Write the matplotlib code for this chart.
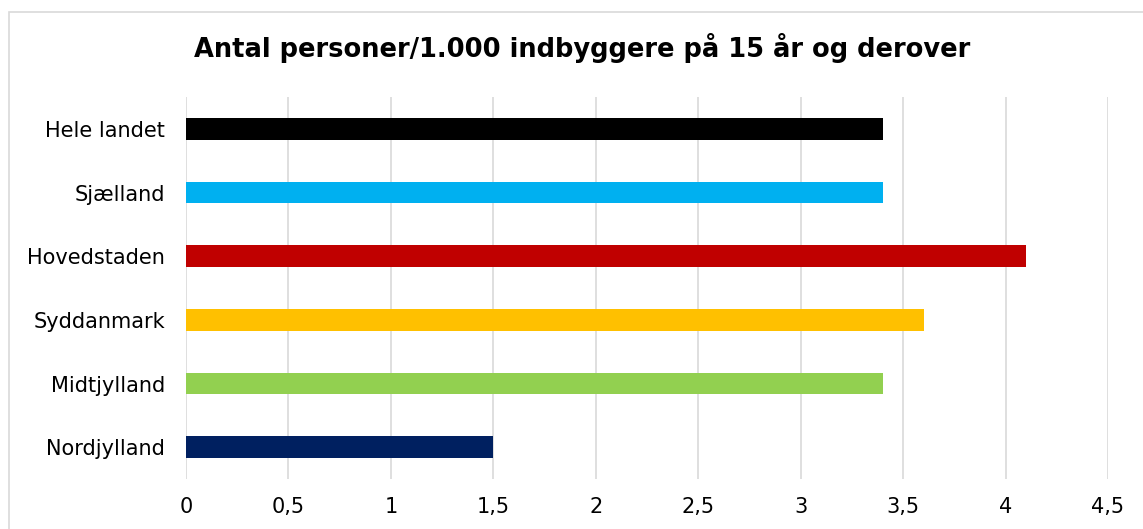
import matplotlib
matplotlib.use("Agg")
import matplotlib.pyplot as plt
from matplotlib.patches import Rectangle

categories = ["Hele landet", "Sjælland", "Hovedstaden", "Syddanmark", "Midtjylland", "Nordjylland"]
values = [3.4, 3.4, 4.1, 3.6, 3.4, 1.5]
colors = ["#000000", "#00B0F0", "#C00000", "#FFC000", "#92D050", "#002060"]
xticks = [0, 0.5, 1, 1.5, 2, 2.5, 3, 3.5, 4, 4.5]
xticklabels = ["0", "0,5", "1", "1,5", "2", "2,5", "3", "3,5", "4", "4,5"]
title = "Antal personer/1.000 indbyggere på 15 år og derover"

W, H = 1143, 529
fig = plt.figure(figsize=(W / 100, H / 100), dpi=100)
plt.rcParams['font.family'] = ['DejaVu Sans']

# outer border
fig.patches.append(Rectangle((9 / W, -0.1), 1.2, 1 - 12 / H + 0.1, transform=fig.transFigure,
                             fill=False, edgecolor="#D9D9D9", linewidth=1.2))

ax = fig.add_axes([186 / W, (H - 479) / H, (1108 - 186) / W, (479 - 97) / H])
y = list(range(len(categories)))
ax.barh(y, values, height=0.345, color=colors, zorder=3)
ax.set_ylim(len(categories) - 0.5, -0.5)
ax.set_xlim(0, 4.5)
ax.set_yticks(y)
ax.set_yticklabels(categories, fontsize=15)
ax.set_xticks(xticks)
ax.set_xticklabels(xticklabels, fontsize=15)
ax.tick_params(axis='both', length=0, colors="#000000")
ax.tick_params(axis='y', pad=15)
ax.tick_params(axis='x', pad=13)
ax.grid(axis='x', color="#D9D9D9", linewidth=1.2, zorder=0)
for s in ax.spines.values():
    s.set_visible(False)

fig.text(582 / W, 1 - 48 / H, title, ha='center', va='center', fontsize=18.5, fontweight='bold')

fig.savefig("out.png", dpi=100)
